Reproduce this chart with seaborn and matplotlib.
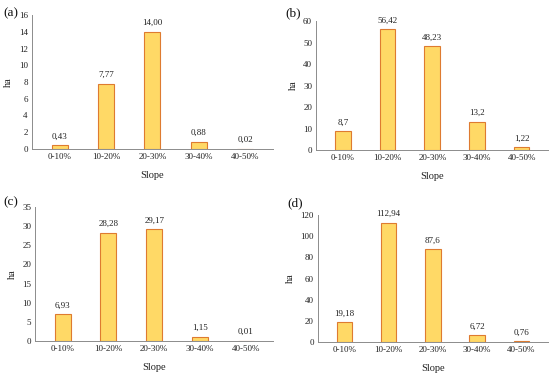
import numpy as np
import pandas as pd
import matplotlib
matplotlib.use("Agg")
import matplotlib.pyplot as plt
import seaborn as sns

sns.set_theme(style="white")
plt.rcParams['font.family'] = ['Liberation Serif', 'DejaVu Serif']

slopes = ["0-10%", "10-20%", "20-30%", "30-40%", "40-50%"]
vals_a = [0.43, 7.77, 14.00, 0.88, 0.02]
vals_b = [8.7, 56.42, 48.23, 13.2, 1.22]
vals_c = [6.93, 28.28, 29.17, 1.15, 0.01]
vals_d = [19.18, 112.94, 87.6, 6.72, 0.76]
labels_a = ["0,43", "7,77", "14,00", "0,88", "0,02"]
labels_b = ["8,7", "56,42", "48,23", "13,2", "1,22"]
labels_c = ["6,93", "28,28", "29,17", "1,15", "0,01"]
labels_d = ["19,18", "112,94", "87,6", "6,72", "0,76"]

panels = [
    ("(a)", vals_a, labels_a, 16, 2, [0.058, 0.606, 0.438, 0.354], (0.006, 0.965)),
    ("(b)", vals_b, labels_b, 60, 10, [0.575, 0.603, 0.422, 0.341], (0.518, 0.965)),
    ("(c)", vals_c, labels_c, 35, 5, [0.064, 0.098, 0.433, 0.354], (0.006, 0.465)),
    ("(d)", vals_d, labels_d, 120, 20, [0.578, 0.095, 0.418, 0.336], (0.522, 0.463)),
]

fig = plt.figure(figsize=(5.5, 3.78), dpi=100)
fig.patch.set_facecolor("white")

for tag, vals, labs, ymax, step, rect, tpos in panels:
    ax = fig.add_axes(rect)
    df = pd.DataFrame({"Slope": slopes, "ha": vals})
    sns.barplot(data=df, x="Slope", y="ha", color="#FFD966", edgecolor="#DE7B30",
                linewidth=0.8, width=0.35, saturation=1, ax=ax)
    for i, (v, s) in enumerate(zip(vals, labs)):
        ax.text(i, v + ymax * 0.035, s, ha="center", va="bottom", fontsize=6.5, color="#222222")
    ax.set_ylim(0, ymax)
    ax.set_yticks(np.arange(0, ymax + 0.1, step))
    ax.set_xlim(-0.6, 4.6)
    ax.tick_params(axis="both", length=0, labelsize=6.5, colors="#222222", pad=3)
    ax.set_xlabel("Slope", fontsize=7.5, color="#222222", labelpad=7)
    ax.set_ylabel("ha", fontsize=7.5, color="#222222", labelpad=4)
    for side in ["top", "right"]:
        ax.spines[side].set_visible(False)
    for side in ["left", "bottom"]:
        ax.spines[side].set_color("#8C8C8C")
        ax.spines[side].set_linewidth(0.7)
    fig.text(tpos[0], tpos[1], tag, fontsize=9.5, ha="left", va="center", color="#111111")

fig.savefig("out.png", dpi=100)
